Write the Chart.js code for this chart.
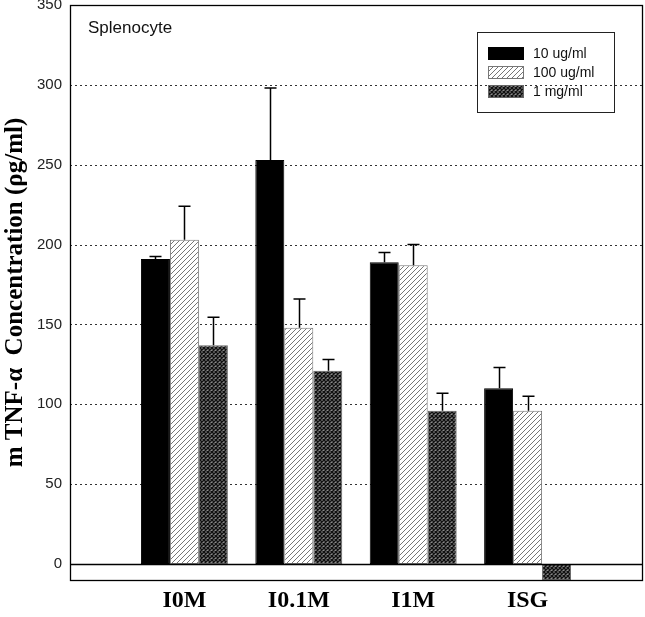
<!DOCTYPE html>
<html>
<head>
<meta charset="utf-8">
<script src="https://cdn.jsdelivr.net/npm/chart.js@4/dist/chart.umd.min.js"></script>
<style>
  html, body { margin: 0; padding: 0; background: #fff; }
  #wrap { width: 645px; height: 617px; }
</style>
</head>
<body>
<div id="wrap"><canvas id="myChart" width="645" height="617"></canvas></div>
<script>
// data (empty slots at both ends keep the groups spaced like the original)
const categories = ["", "I0M", "I0.1M", "I1M", "ISG", ""];
const seriesNames = ["10 ug/ml", "100 ug/ml", "1 mg/ml"];
const low = [null, 191, 253, 189, 110, null];
const mid = [null, 203, 148, 187, 96, null];
const high = [null, 137, 121, 96, -10, null];
// upper error values (SD), upward only
const lowErr = [null, 1.5, 45, 6, 13, null];
const midErr = [null, 21, 18, 13, 9, null];
const highErr = [null, 17.5, 7, 11, null, null];
const yTicks = [0, 50, 100, 150, 200, 250, 300, 350];
const yTitle = "m TNF-\u03b1  Concentration (\u03c1g/ml)";
const panelLabel = "Splenocyte";

function makeHatch() {
  const c = document.createElement("canvas");
  c.width = 5; c.height = 5;
  const g = c.getContext("2d");
  g.fillStyle = "#fff";
  g.fillRect(0, 0, 5, 5);
  g.strokeStyle = "#666";
  g.lineWidth = 0.9;
  g.beginPath();
  g.moveTo(-1, 1); g.lineTo(1, -1);
  g.moveTo(0, 5); g.lineTo(5, 0);
  g.moveTo(4, 6); g.lineTo(6, 4);
  g.stroke();
  return g.createPattern(c, "repeat");
}

function makeCross() {
  const c = document.createElement("canvas");
  c.width = 4; c.height = 4;
  const g = c.getContext("2d");
  g.fillStyle = "#8a8a8a";
  g.fillRect(0, 0, 4, 4);
  g.strokeStyle = "#111";
  g.lineWidth = 1.4;
  g.beginPath();
  g.moveTo(0, 0); g.lineTo(4, 4);
  g.moveTo(0, 4); g.lineTo(4, 0);
  g.stroke();
  return g.createPattern(c, "repeat");
}

const errors = [lowErr, midErr, highErr];

const framePlugin = {
  id: "frame",
  beforeDatasetsDraw(chart) {
    const ctx = chart.ctx;
    const y = chart.scales.y;
    const a = chart.chartArea;
    ctx.save();
    ctx.strokeStyle = "#333";
    ctx.lineWidth = 1;
    ctx.setLineDash([2, 3]);
    yTicks.forEach(v => {
      if (v <= 0 || v >= 350) return;
      const py = Math.round(y.getPixelForValue(v)) + 0.5;
      ctx.beginPath();
      ctx.moveTo(a.left, py);
      ctx.lineTo(a.right, py);
      ctx.stroke();
    });
    ctx.restore();
  },
  afterDatasetsDraw(chart) {
    const ctx = chart.ctx;
    const y = chart.scales.y;
    const a = chart.chartArea;
    ctx.save();
    // error bars
    ctx.strokeStyle = "#000";
    ctx.lineWidth = 1.5;
    chart.data.datasets.forEach((ds, di) => {
      const meta = chart.getDatasetMeta(di);
      meta.data.forEach((bar, i) => {
        const v = ds.data[i];
        const e = errors[di][i];
        if (v == null || e == null) return;
        const x = Math.round(bar.x) + 0.5;
        const y0 = y.getPixelForValue(v);
        const y1 = y.getPixelForValue(v + e);
        ctx.beginPath();
        ctx.moveTo(x, y0);
        ctx.lineTo(x, y1);
        ctx.moveTo(x - 6, y1);
        ctx.lineTo(x + 6, y1);
        ctx.stroke();
      });
    });
    // zero line and frame
    ctx.lineWidth = 1.3;
    const z = Math.round(y.getPixelForValue(0)) + 0.5;
    ctx.beginPath();
    ctx.moveTo(a.left, z);
    ctx.lineTo(a.right, z);
    ctx.stroke();
    ctx.strokeRect(Math.round(a.left) + 0.5, Math.round(a.top) + 0.5,
      Math.round(a.right - a.left), Math.round(a.bottom - a.top));
    // panel label
    ctx.fillStyle = "#111";
    ctx.font = "17px 'Liberation Sans', Arial, sans-serif";
    ctx.textBaseline = "middle";
    ctx.fillText(panelLabel, a.left + 18, a.top + 23);
    // legend
    const lx = 477, ly = 32;
    ctx.lineWidth = 1;
    ctx.strokeStyle = "#222";
    ctx.strokeRect(lx + 0.5, ly + 0.5, 137, 80);
    ctx.font = "14px 'Liberation Sans', Arial, sans-serif";
    chart.data.datasets.forEach((ds, di) => {
      const cy = ly + 21 + di * 19;
      ctx.fillStyle = ds.backgroundColor;
      ctx.fillRect(lx + 11, cy - 6, 36, 13);
      ctx.strokeStyle = ds.borderColor;
      ctx.strokeRect(lx + 11.5, cy - 5.5, 35, 12);
      ctx.fillStyle = "#111";
      ctx.fillText(ds.label, lx + 56, cy + 1);
    });
    ctx.restore();
  }
};

new Chart(document.getElementById("myChart"), {
  type: "bar",
  data: {
    labels: categories,
    datasets: [
      { label: seriesNames[0], data: low, backgroundColor: "#000", borderColor: "#000", borderWidth: 1 },
      { label: seriesNames[1], data: mid, backgroundColor: makeHatch(), borderColor: "#777", borderWidth: 1 },
      { label: seriesNames[2], data: high, backgroundColor: makeCross(), borderColor: "#666", borderWidth: 1 },
    ],
  },
  options: {
    responsive: false,
    animation: false,
    layout: { padding: { top: 5, right: 3, left: 0, bottom: 0 } },
    plugins: { legend: { display: false }, tooltip: { enabled: false } },
    datasets: { bar: { barPercentage: 1, categoryPercentage: 0.76, borderSkipped: false } },
    scales: {
      x: {
        offset: false,
        grid: { display: false, drawTicks: false },
        border: { display: false },
        ticks: {
          color: "#000",
          padding: 6,
          maxRotation: 0,
          autoSkip: false,
          font: { family: "'Liberation Serif', 'Times New Roman', serif", size: 24, weight: "bold" },
        },
        afterFit: s => { s.height = 37; s.paddingLeft = 0; s.paddingRight = 0; },
      },
      y: {
        min: -10,
        max: 350,
        grid: { display: false, drawTicks: false },
        border: { display: false },
        afterBuildTicks: s => { s.ticks = yTicks.map(v => ({ value: v })); },
        ticks: {
          color: "#222",
          padding: 8,
          font: { family: "'Liberation Sans', Arial, sans-serif", size: 15 },
        },
        title: {
          display: true,
          text: yTitle,
          color: "#000",
          padding: { top: 1, bottom: 0 },
          font: { family: "'Liberation Serif', 'Times New Roman', serif", size: 25, weight: "bold" },
        },
        afterFit: s => { s.width = 70; s.paddingTop = 0; s.paddingBottom = 0; },
      },
    },
  },
  plugins: [framePlugin],
});
</script>
</body>
</html>
